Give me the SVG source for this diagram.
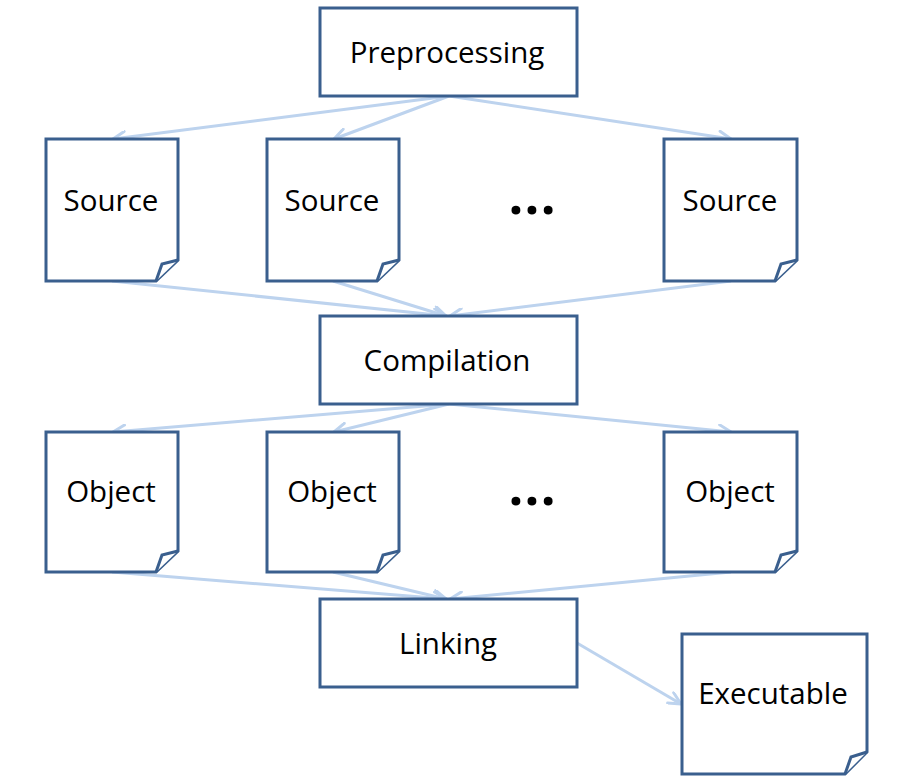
<svg xmlns="http://www.w3.org/2000/svg" width="897" height="782" viewBox="0 0 897 782">
<defs>
<style>
.box{fill:#fff;stroke:#3A5F8E;stroke-width:3;stroke-linejoin:miter}
.fold{fill:#fff;stroke:#3A5F8E;stroke-width:3;stroke-linejoin:miter}
.lbl{font-family:"Open Sans","Liberation Sans",sans-serif;font-size:29.5px;fill:#000;text-anchor:middle}
.dots{font-family:"Open Sans","Liberation Sans",sans-serif;font-size:52px;font-weight:bold;fill:#000;letter-spacing:1.2px}
.conn{fill:none;stroke:#BDD3EE;stroke-width:3;marker-end:url(#arr)}
</style>
<marker id="arr" markerUnits="userSpaceOnUse" viewBox="0 0 16 14" markerWidth="16" markerHeight="14" refX="14" refY="7" orient="auto">
<path d="M2,1 L14,7 L2,13" fill="none" stroke="#BDD3EE" stroke-width="3" stroke-linecap="round" stroke-linejoin="round"/>
</marker>
</defs>
<rect width="897" height="782" fill="#fff"/>
<g id="connectors">
<line class="conn" x1="449" y1="96" x2="113" y2="139"/>
<line class="conn" x1="449" y1="96" x2="334" y2="139"/>
<line class="conn" x1="449" y1="96" x2="731" y2="139"/>
<line class="conn" x1="112" y1="281" x2="446" y2="316"/>
<line class="conn" x1="333" y1="281" x2="446" y2="316"/>
<line class="conn" x1="731" y1="281" x2="450" y2="316"/>
<line class="conn" x1="449" y1="404" x2="113" y2="432"/>
<line class="conn" x1="449" y1="404" x2="334" y2="432"/>
<line class="conn" x1="449" y1="404" x2="731" y2="432"/>
<line class="conn" x1="112" y1="572" x2="446" y2="599"/>
<line class="conn" x1="333" y1="572" x2="446" y2="599"/>
<line class="conn" x1="731" y1="572" x2="450" y2="599"/>
<line class="conn" x1="577" y1="643" x2="681" y2="704"/>
</g>
<g id="preprocessing">
<rect class="box" x="320" y="8" width="257" height="88"/>
<text class="lbl" x="447" y="63">Preprocessing</text>
</g>
<g id="source1">
<path class="box" d="M46,139 H178 V260 L156,281 H46 Z"/>
<path class="fold" d="M156,281 L162,264 L178,260"/>
<text class="lbl" x="111" y="211">Source</text>
</g>
<g id="source2">
<path class="box" d="M267,139 H399 V260 L377,281 H267 Z"/>
<path class="fold" d="M377,281 L383,264 L399,260"/>
<text class="lbl" x="332" y="211">Source</text>
</g>
<g id="source3">
<path class="box" d="M664,139 H797 V260 L775,281 H664 Z"/>
<path class="fold" d="M775,281 L781,264 L797,260"/>
<text class="lbl" x="730" y="211">Source</text>
</g>
<g id="dots1"><text class="dots" x="508.6" y="214">...</text></g>
<g id="compilation">
<rect class="box" x="320" y="316" width="257" height="88"/>
<text class="lbl" x="447" y="371">Compilation</text>
</g>
<g id="object1">
<path class="box" d="M46,432 H178 V551 L156,572 H46 Z"/>
<path class="fold" d="M156,572 L162,555 L178,551"/>
<text class="lbl" x="111" y="502">Object</text>
</g>
<g id="object2">
<path class="box" d="M267,432 H399 V551 L377,572 H267 Z"/>
<path class="fold" d="M377,572 L383,555 L399,551"/>
<text class="lbl" x="332" y="502">Object</text>
</g>
<g id="object3">
<path class="box" d="M664,432 H797 V551 L775,572 H664 Z"/>
<path class="fold" d="M775,572 L781,555 L797,551"/>
<text class="lbl" x="730" y="502">Object</text>
</g>
<g id="dots2"><text class="dots" x="508.6" y="505">...</text></g>
<g id="linking">
<rect class="box" x="320" y="599" width="257" height="88"/>
<text class="lbl" x="448" y="654">Linking</text>
</g>
<g id="executable">
<path class="box" d="M682,634 H867 V752 L845,774 H682 Z"/>
<path class="fold" d="M845,774 L851,757 L867,752"/>
<text class="lbl" x="773" y="704">Executable</text>
</g>
</svg>
